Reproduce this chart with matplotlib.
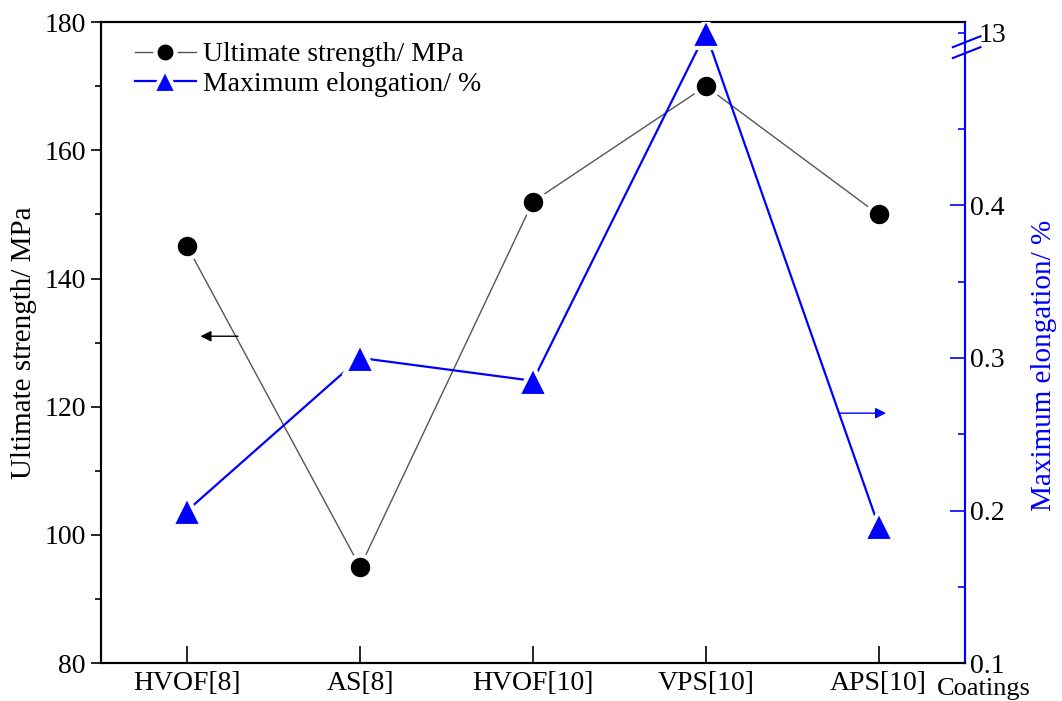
import numpy as np
import matplotlib
matplotlib.use('Agg')
from matplotlib import pyplot as plt
from matplotlib.transforms import blended_transform_factory

plt.rcParams['font.family'] = ['Liberation Serif', 'DejaVu Serif']

coatings = ['HVOF[8]', 'AS[8]', 'HVOF[10]', 'VPS[10]', 'APS[10]']
strength = [145, 95, 152, 170, 150]          # MPa
elongation = [0.2, 0.3, 0.285, 13, 0.19]     # %

x = np.arange(1, len(coatings) + 1)
blue = '#0000ff'
fs = 20

# broken right axis: linear up to 0.505, then squeezed
brk = 0.505
k = 0.00064
def fwd(v):
    v = np.asarray(v, dtype=float)
    return np.where(v <= brk, v, brk + (v - brk) * k)
def inv(v):
    v = np.asarray(v, dtype=float)
    return np.where(v <= brk, v, brk + (v - brk) / k)

fig = plt.figure(figsize=(10.62, 7.01), dpi=100)
ax = fig.add_axes([0.095, 0.054, 0.8136, 0.9144])
ax2 = ax.twinx()

l1, = ax.plot(x, strength, color='#555555', lw=1.0, marker='o', ms=17,
              mfc='black', mec='white', mew=3, zorder=3)
l2, = ax2.plot(x, elongation, color=blue, lw=1.6, marker='^', ms=21,
               mfc=blue, mec='white', mew=3, zorder=3)

ax.set_xlim(0.5, 5.5)
ax.set_ylim(80, 180)
ax.set_yticks([80, 100, 120, 140, 160, 180])
ax.set_yticks(np.arange(90, 180, 20), minor=True)
ax.set_xticks(x)
ax.set_xticklabels(coatings)
ax.tick_params(axis='y', which='major', direction='out', length=7, width=1.2, labelsize=fs, pad=4)
ax.tick_params(axis='y', which='minor', direction='out', length=4, width=1.2)
ax.tick_params(axis='x', direction='in', length=12, width=1.2, labelsize=fs, pad=6)
ax.set_ylabel('Ultimate strength/ MPa', fontsize=21, labelpad=5)

ax2.set_yscale('function', functions=(fwd, inv))
ax2.set_ylim(0.1, float(inv(0.52)))
ax2.set_yticks([0.1, 0.2, 0.3, 0.4])
ax2.set_yticklabels(['0.1', '0.2', '0.3', '0.4'])
ax2.set_yticks([0.15, 0.25, 0.35, 0.45, 13], minor=True)
ax2.set_yticklabels(['', '', '', '', '13'], minor=True)
ax2.tick_params(axis='y', which='major', direction='in', length=11, width=1.2,
                color=blue, labelsize=fs, pad=4)
ax2.tick_params(axis='y', which='minor', direction='in', length=5, width=1.2,
                color=blue, labelsize=fs, pad=10)
ax2.set_ylabel('Maximum elongation/ %', fontsize=21, color=blue)
ax2.yaxis.set_label_coords(1.077, 0.465)

for a in (ax, ax2):
    for s in a.spines.values():
        s.set_linewidth(1.5)
ax2.spines['right'].set_color(blue)

# axis break marks on the right spine
for y0 in (0.944, 0.961):
    ax2.plot([0.986, 1.018], [y0, y0 + 0.017], color=blue, lw=1.5,
             transform=ax2.transAxes, clip_on=False, zorder=5)

# arrows pointing at each series' axis
ax.annotate('', xy=(1.06, 131), xytext=(1.31, 131),
            arrowprops=dict(arrowstyle='-|>', color='black', lw=1, mutation_scale=16))
ax.annotate('', xy=(5.06, 119), xytext=(4.76, 119),
            arrowprops=dict(arrowstyle='-|>', color=blue, lw=1, mutation_scale=16))

trans = blended_transform_factory(ax.transData, ax.transAxes)
ax.text(5.34, -0.0235, 'Coatings', transform=trans, ha='left', va='top', fontsize=19)

ax.legend([l1, l2], ['Ultimate strength/ MPa', 'Maximum elongation/ %'],
          loc='upper left', bbox_to_anchor=(0.02, 0.995), frameon=False, fontsize=fs,
          handlelength=2.2, handletextpad=0.25, borderaxespad=0.2, labelspacing=0.15,
          markerscale=0.85)

fig.savefig('out.png', dpi=100)
